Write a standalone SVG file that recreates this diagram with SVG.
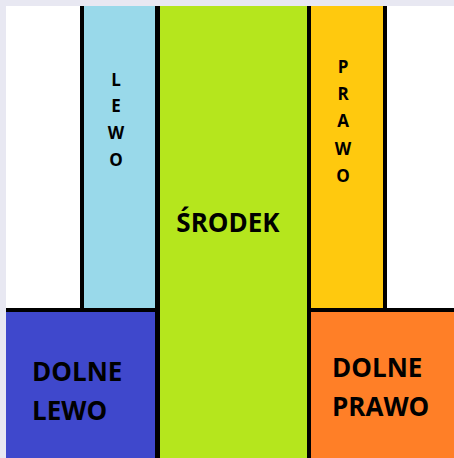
<svg xmlns="http://www.w3.org/2000/svg" width="454" height="458" viewBox="0 0 454 458">
<style>
.t{font-family:"Open Sans","Liberation Sans",sans-serif;font-weight:bold;fill:#000;text-anchor:middle}
.l{text-anchor:start}
.s{font-size:17px}
.b{font-size:26px}
</style>
<rect x="0" y="0" width="454" height="458" fill="#e8e8f2"/>
<rect x="6" y="6" width="448" height="452" fill="#ffffff"/>
<g id="lewo">
<rect x="80" y="6" width="80" height="306" fill="#000"/>
<rect x="84" y="6" width="71" height="302" fill="#99d9ea"/>
<text class="t s" x="116" y="86">L</text>
<text class="t s" x="116" y="112">E</text>
<text class="t s" x="116" y="139">W</text>
<text class="t s" x="116" y="166">O</text>
</g>
<g id="prawo">
<rect x="307" y="6" width="80" height="306" fill="#000"/>
<rect x="311" y="6" width="72" height="302" fill="#ffc90e"/>
<text class="t s" x="343" y="73">P</text>
<text class="t s" x="343" y="100">R</text>
<text class="t s" x="343" y="127">A</text>
<text class="t s" x="343" y="155">W</text>
<text class="t s" x="343" y="182">O</text>
</g>
<g id="dolne-lewo">
<rect x="6" y="308" width="154" height="150" fill="#000"/>
<rect x="6" y="312" width="149" height="146" fill="#3f48cc"/>
<text class="t b l" x="32" y="381">DOLNE</text>
<text class="t b l" x="32" y="420">LEWO</text>
</g>
<g id="dolne-prawo">
<rect x="307" y="308" width="147" height="150" fill="#000"/>
<rect x="311" y="312" width="143" height="146" fill="#ff7f27"/>
<text class="t b l" x="332" y="377">DOLNE</text>
<text class="t b l" x="332" y="416">PRAWO</text>
</g>
<g id="srodek">
<rect x="155" y="6" width="156" height="452" fill="#000"/>
<rect x="160" y="6" width="147" height="452" fill="#b5e61d"/>
<text class="t" style="font-size:26px" x="228" y="232">ŚRODEK</text>
</g>
<g id="connectors"/>
</svg>
